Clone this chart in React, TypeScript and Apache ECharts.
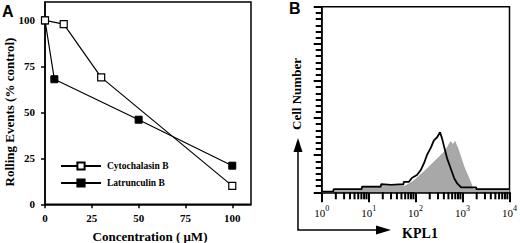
import React, { useEffect, useRef } from "react";
import * as echarts from "echarts";

// ---------- Panel A data ----------
const concTicks = [0, 25, 50, 75, 100];
const rollingTicks = [0, 25, 50, 75, 100];
const cytoConc = [0, 10, 30, 100];
const cytoRolling = [100, 98, 69, 10];
const latConc = [0, 5, 50, 100];
const latRolling = [100, 68, 46, 21];

// ---------- Panel B data ----------
const decadeTicks = [1, 10, 100, 1000, 10000];
const minorMultipliers = [2, 3, 4, 5, 6, 7, 8, 9];
const controlIntensity = [1, 1.75, 1.8, 7.1, 7.2, 18, 18.5, 30, 55, 56, 72, 83, 107, 129, 151, 174, 214, 245, 288, 331, 363, 407, 468, 575, 661, 759, 933, 1950, 1960, 10000];
const controlCount = [1, 1, 5, 5, 9, 9, 13, 12, 13, 17, 17, 23, 28, 36, 47, 60, 73, 84, 89, 97, 88, 73, 55, 36, 23, 15, 8, 8, 5, 5];
const kplIntensity = [1, 1.75, 1.8, 7.1, 7.2, 18, 18.5, 60, 85, 107, 139, 192, 246, 316, 403, 478, 540, 562, 620, 692, 740, 780, 915, 1075, 1270, 1510, 1620, 1700, 10000];
const kplCount = [0, 0, 3, 3, 6, 6, 9, 10, 17, 23, 31, 41, 49, 57, 65, 73, 80, 82, 77, 82, 76, 73, 57, 41, 28, 15, 8, 5, 5];

const SERIF = "'Liberation Serif', 'Times New Roman', serif";
const SANS = "'Liberation Sans', Arial, sans-serif";

export default function App() {
  const ref = useRef<HTMLDivElement>(null);

  useEffect(() => {
    if (!ref.current) return;
    const chart = echarts.init(ref.current, undefined, { renderer: "svg" });

    const minorTickValues: number[][] = [];
    decadeTicks.slice(0, -1).forEach((d) =>
      minorMultipliers.forEach((m) => minorTickValues.push([d * m, 0]))
    );

    const boldLabel = { fontFamily: SERIF, fontWeight: "bold" as const, fontSize: 11, color: "#000" };

    const option: any = {
      animation: false,
      backgroundColor: "#fff",
      textStyle: { fontFamily: SERIF },
      grid: [
        { left: 45, top: 2, right: 269, bottom: 38.7, show: true, borderColor: "#000", borderWidth: 1.5, backgroundColor: "transparent" },
        { left: 321.7, top: 6.7, right: 8.3, bottom: 50.7, show: true, borderColor: "#000", borderWidth: 1.5, backgroundColor: "transparent" },
      ],
      xAxis: [
        {
          type: "value", gridIndex: 0, min: 0, max: 110,
          axisLine: { show: true, lineStyle: { color: "#000", width: 1.5 } },
          axisTick: { show: true, length: 4, lineStyle: { color: "#000", width: 1.5 }, customValues: concTicks },
          axisLabel: { ...boldLabel, margin: 8, customValues: concTicks },
          splitLine: { show: false },
        },
        {
          type: "log", gridIndex: 1, logBase: 10, min: 1, max: 10000, splitNumber: 4,
          axisLine: { show: true, lineStyle: { color: "#000", width: 1.5 } },
          axisTick: { show: true, length: 10, lineStyle: { color: "#000", width: 2 } },
          axisLabel: {
            margin: 12,
            formatter: (v: number) => `{b|10}{s|${Math.round(Math.log10(v))}}`,
            rich: {
              b: { fontFamily: SERIF, fontSize: 11, color: "#000", lineHeight: 14, verticalAlign: "bottom" },
              s: { fontFamily: SERIF, fontSize: 8, color: "#000", lineHeight: 8, verticalAlign: "top" },
            },
          },
          splitLine: { show: false },
          minorTick: { show: false },
        },
      ],
      yAxis: [
        {
          type: "value", gridIndex: 0, min: 0, max: 110,
          axisLine: { show: true, lineStyle: { color: "#000", width: 1.5 } },
          axisTick: { show: true, length: 4, lineStyle: { color: "#000", width: 1.5 }, customValues: rollingTicks },
          axisLabel: { ...boldLabel, margin: 10, customValues: rollingTicks },
          splitLine: { show: false },
        },
        {
          type: "value", gridIndex: 1, min: 0, max: 300, interval: 60,
          axisLine: { show: true, lineStyle: { color: "#000", width: 1.5 } },
          axisTick: { show: true, length: 8, lineStyle: { color: "#000", width: 2 } },
          minorTick: { show: true, splitNumber: 6, length: 6, lineStyle: { color: "#000", width: 2 } },
          axisLabel: { show: false },
          splitLine: { show: false },
        },
      ],
      legend: {
        orient: "vertical", left: 60, top: 161, padding: 0, itemWidth: 40, itemHeight: 9, itemGap: 7,
        data: ["Cytochalasin B", "Latrunculin B"],
        textStyle: { fontFamily: SERIF, fontWeight: "bold", fontSize: 9.5, color: "#000", padding: [0, 0, 0, 1] },
        selectedMode: false,
      },
      series: [
        {
          name: "Latrunculin B", type: "line", xAxisIndex: 0, yAxisIndex: 0,
          data: latConc.map((c, i) => [c, latRolling[i]]),
          symbol: "rect", symbolSize: 7,
          itemStyle: { color: "#000", borderColor: "#000", borderWidth: 1 },
          lineStyle: { color: "#000", width: 1.2 },
          emphasis: { disabled: true }, z: 2,
        },
        {
          name: "Cytochalasin B", type: "line", xAxisIndex: 0, yAxisIndex: 0,
          data: cytoConc.map((c, i) => [c, cytoRolling[i]]),
          symbol: "rect", symbolSize: 7,
          itemStyle: { color: "#fff", borderColor: "#000", borderWidth: 1.2 },
          lineStyle: { color: "#000", width: 1.2 },
          emphasis: { disabled: true }, z: 3,
        },
        {
          name: "KPL1", type: "line", xAxisIndex: 1, yAxisIndex: 1,
          data: kplIntensity.map((v, i) => [v, kplCount[i]]),
          symbol: "none",
          lineStyle: { color: "#a0a0a0", width: 0.8 },
          areaStyle: { color: "#a8a8a8", opacity: 1 },
          emphasis: { disabled: true }, z: 2,
        },
        {
          name: "Control", type: "line", xAxisIndex: 1, yAxisIndex: 1,
          data: controlIntensity.map((v, i) => [v, controlCount[i]]),
          symbol: "none",
          lineStyle: { color: "#000", width: 1.8 },
          emphasis: { disabled: true }, z: 3,
        },
        {
          name: "minorTicks", type: "custom", xAxisIndex: 1, yAxisIndex: 1,
          data: minorTickValues, clip: false, silent: true,
          renderItem: (_p: any, api: any) => {
            const pt = api.coord([api.value(0), 0]);
            return {
              type: "line",
              shape: { x1: pt[0], y1: pt[1], x2: pt[0], y2: pt[1] + 7 },
              style: { stroke: "#000", lineWidth: 2 },
            };
          },
          z: 4,
        },
      ],
      graphic: [
        { type: "text", left: 2, top: 3, style: { text: "A", fontFamily: SANS, fontWeight: "bold", fontSize: 16, fill: "#000" } },
        { type: "text", left: 289, top: 0, style: { text: "B", fontFamily: SANS, fontWeight: "bold", fontSize: 16, fill: "#000" } },
        { type: "text", x: 9, y: 112, rotation: Math.PI / 2, style: { text: "Rolling Events (% control)", fontFamily: SERIF, fontWeight: "bold", fontSize: 13, fill: "#000", align: "center", verticalAlign: "middle" } },
        { type: "text", x: 150, y: 236, style: { text: "Concentration ( \u03bcM)", fontFamily: SERIF, fontWeight: "bold", fontSize: 13, fill: "#000", align: "center", verticalAlign: "middle" } },
        { type: "text", x: 296, y: 94, rotation: Math.PI / 2, style: { text: "Cell Number", fontFamily: SERIF, fontWeight: "bold", fontSize: 13, fill: "#000", align: "center", verticalAlign: "middle" } },
        { type: "text", x: 420, y: 233.5, style: { text: "KPL1", fontFamily: SERIF, fontWeight: "bold", fontSize: 14, fill: "#000", align: "center", verticalAlign: "middle" } },
        { type: "line", shape: { x1: 298, y1: 230, x2: 298, y2: 150 }, style: { stroke: "#000", lineWidth: 1.5 } },
        { type: "polygon", shape: { points: [[298, 138], [293.5, 152], [302.5, 152]] }, style: { fill: "#000" } },
        { type: "line", shape: { x1: 297.3, y1: 230, x2: 380, y2: 230 }, style: { stroke: "#000", lineWidth: 1.5 } },
        { type: "polygon", shape: { points: [[391, 230], [376, 225.5], [376, 234.5]] }, style: { fill: "#000" } },
      ],
    };

    chart.setOption(option);
    return () => chart.dispose();
  }, []);

  return (
    <div
      ref={ref}
      style={{ position: "absolute", left: 0, top: 0, width: 520, height: 243 }}
    />
  );
}
